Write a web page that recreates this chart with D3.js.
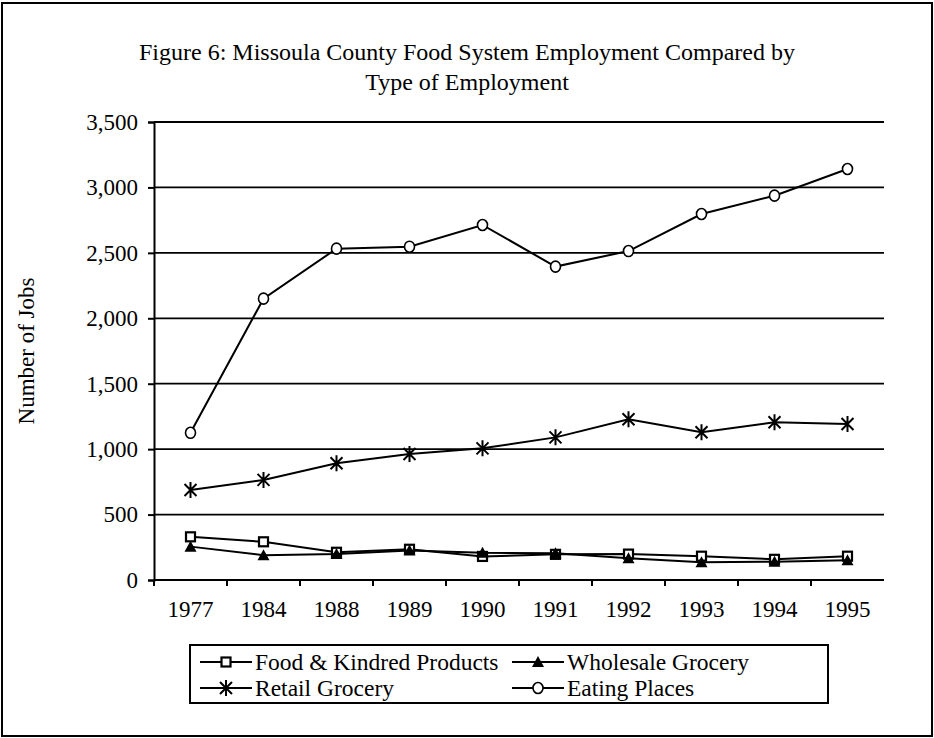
<!DOCTYPE html>
<html>
<head>
<meta charset="utf-8">
<script src="https://cdn.jsdelivr.net/npm/d3@7"></script>
<style>
  body { margin: 0; background: white; }
  text { font-family: "Liberation Serif", "Times New Roman", serif; fill: black; }
</style>
</head>
<body>
<div class="plot"></div>
<script>
var years = ["1977", "1984", "1988", "1989", "1990", "1991", "1992", "1993", "1994", "1995"];

var foodKindred = [330, 292, 212, 235, 180, 196, 198, 182, 158, 182];
var wholesale   = [255, 190, 198, 226, 208, 204, 166, 135, 140, 150];
var retail      = [688, 765, 892, 963, 1006, 1090, 1228, 1129, 1205, 1192];
var eating      = [1125, 2150, 2532, 2547, 2713, 2395, 2514, 2797, 2937, 3141];

var yTicks = [0, 500, 1000, 1500, 2000, 2500, 3000, 3500];

var seriesList = [
  {name: "Food & Kindred Products", values: foodKindred, marker: "square"},
  {name: "Wholesale Grocery", values: wholesale, marker: "triangle"},
  {name: "Retail Grocery", values: retail, marker: "star"},
  {name: "Eating Places", values: eating, marker: "circle"}
];

var width = 934;
var height = 738;

var svg = d3.select(".plot").append("svg")
  .attr("width", width)
  .attr("height", height);

// outer frame
svg.append("rect")
  .attr("x", 2).attr("y", 3)
  .attr("width", 930).attr("height", 733)
  .attr("fill", "white")
  .attr("stroke", "black")
  .attr("stroke-width", 2);

// title
svg.append("text")
  .attr("x", 467).attr("y", 60)
  .attr("text-anchor", "middle")
  .style("font-size", "24px")
  .text("Figure 6: Missoula County Food System Employment Compared by");
svg.append("text")
  .attr("x", 467).attr("y", 90)
  .attr("text-anchor", "middle")
  .style("font-size", "24px")
  .text("Type of Employment");

var plotLeft = 154, plotRight = 884, plotTop = 122, plotBottom = 580;

var x = d3.scaleBand()
  .domain(years)
  .range([plotLeft, plotRight]);

var y = d3.scaleLinear()
  .domain([0, 3500])
  .range([plotBottom, plotTop]);

// gridlines
svg.append("g")
  .selectAll("line")
  .data(yTicks.slice(1))
  .join("line")
  .attr("x1", plotLeft).attr("x2", plotRight)
  .attr("y1", d => y(d)).attr("y2", d => y(d))
  .attr("stroke", "black")
  .attr("stroke-width", 1.8);

// y axis
var yAxis = svg.append("g")
  .attr("transform", "translate(" + plotLeft + ",0)")
  .call(d3.axisLeft(y).tickValues(yTicks).tickSize(6).tickPadding(10).tickFormat(d3.format(",")));
yAxis.select(".domain").attr("stroke-width", 2);
yAxis.selectAll(".tick line").attr("stroke-width", 2);
yAxis.selectAll("text").style("font-size", "23px").attr("font-family", null);

// x axis, ticks at band boundaries
var xAxis = svg.append("g")
  .attr("transform", "translate(0," + plotBottom + ")")
  .call(d3.axisBottom(x).tickSize(0).tickPadding(21));
xAxis.select(".domain").attr("stroke-width", 2).attr("d", "M" + plotLeft + ",0H" + plotRight);
xAxis.selectAll("text").style("font-size", "23px").attr("font-family", null);
xAxis.selectAll(".bound")
  .data(years)
  .join("line")
  .attr("class", "bound")
  .attr("x1", d => x(d)).attr("x2", d => x(d))
  .attr("y1", 0).attr("y2", 6)
  .attr("stroke", "black")
  .attr("stroke-width", 2);

// y axis title
svg.append("text")
  .attr("transform", "translate(34,351) rotate(-90)")
  .attr("text-anchor", "middle")
  .style("font-size", "23px")
  .text("Number of Jobs");

function drawMarker(g, type) {
  if (type == "square") {
    g.append("rect")
      .attr("x", -4.5).attr("y", -4.5).attr("width", 9).attr("height", 9)
      .attr("fill", "white").attr("stroke", "black").attr("stroke-width", 2.2);
  } else if (type == "triangle") {
    g.append("path")
      .attr("d", "M0,-6L6,5L-6,5Z")
      .attr("fill", "black");
  } else if (type == "star") {
    g.append("path")
      .attr("d", "M0,-8V8M-6,-6L6,6M-6,6L6,-6")
      .attr("stroke", "black").attr("stroke-width", 2).attr("fill", "none");
  } else {
    g.append("ellipse")
      .attr("rx", 5).attr("ry", 5.5)
      .attr("fill", "white").attr("stroke", "black").attr("stroke-width", 1.6);
  }
}

var line = d3.line()
  .x((d, i) => x(years[i]) + x.bandwidth() / 2)
  .y(d => y(d));

seriesList.forEach(function(s) {
  svg.append("path")
    .datum(s.values)
    .attr("d", line)
    .attr("fill", "none")
    .attr("stroke", "black")
    .attr("stroke-width", 2);

  svg.append("g")
    .selectAll("g")
    .data(s.values)
    .join("g")
    .attr("transform", (d, i) => "translate(" + (x(years[i]) + x.bandwidth() / 2) + "," + y(d) + ")")
    .each(function() { drawMarker(d3.select(this), s.marker); });
});

// legend
var legend = svg.append("g");
legend.append("rect")
  .attr("x", 190).attr("y", 645)
  .attr("width", 638).attr("height", 58)
  .attr("fill", "white")
  .attr("stroke", "black")
  .attr("stroke-width", 2);

var legendPos = [[200, 662], [512, 662], [200, 688], [512, 688]];

seriesList.forEach(function(s, i) {
  var p = legendPos[i];
  var item = legend.append("g").attr("transform", "translate(" + p[0] + "," + p[1] + ")");
  item.append("line")
    .attr("x1", 0).attr("x2", 52)
    .attr("stroke", "black").attr("stroke-width", 2);
  var m = item.append("g").attr("transform", "translate(26,0)");
  drawMarker(m, s.marker);
  item.append("text")
    .attr("x", 55).attr("y", 8)
    .style("font-size", "23.5px")
    .text(s.name);
});
</script>
</body>
</html>
